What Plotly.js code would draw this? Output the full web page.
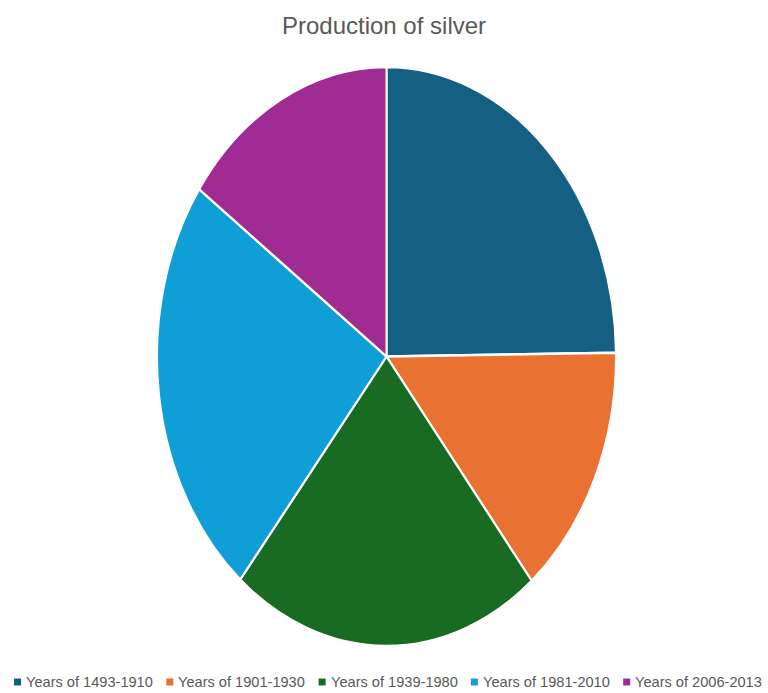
<!DOCTYPE html>
<html>
<head>
<meta charset="utf-8">
<script src="https://cdn.plot.ly/plotly-3.0.1.min.js"></script>
<style>
html,body{margin:0;padding:0;background:#fff;}
#chart{width:768px;height:693px;}
</style>
</head>
<body>
<div id="chart"></div>
<script>
var categories = ["Years of 1493-1910", "Years of 1901-1930", "Years of 1939-1980", "Years of 1981-2010", "Years of 2006-2013"];
var values = [24.8, 14.3, 21.9, 23.8, 15.2];
var colors = ["#156082", "#E97132", "#196B24", "#0F9ED5", "#A02B93"];

var W = 768, H = 693;
// pie ellipse geometry (pixels)
var cx = 386.5, cy = 356.5, rx = 229.5, ry = 289.5;

var trace = {
  type: "pie",
  labels: categories,
  values: values,
  sort: false,
  direction: "clockwise",
  rotation: 0,
  textinfo: "none",
  hoverinfo: "label+value",
  marker: {colors: colors, line: {color: "#ffffff", width: 2}},
  domain: {
    x: [(cx - rx) / W, (cx + rx) / W],
    y: [1 - (cy + rx) / H, 1 - (cy - rx) / H]
  },
  showlegend: false
};

// legend built from categories
var legendStart = 14, legendPitch = 152.3, sq = 7, legendY = 682;
var shapes = [], annotations = [];
categories.forEach(function (c, i) {
  var x0 = legendStart + i * legendPitch;
  shapes.push({
    type: "rect", xref: "paper", yref: "paper",
    x0: x0 / W, x1: (x0 + sq) / W,
    y0: 1 - (legendY + sq / 2) / H, y1: 1 - (legendY - sq / 2) / H,
    fillcolor: colors[i], line: {width: 0}
  });
  annotations.push({
    xref: "paper", yref: "paper",
    x: (x0 + sq + 3) / W, y: 1 - legendY / H,
    xanchor: "left", yanchor: "middle",
    text: c, showarrow: false,
    font: {family: "Liberation Sans, Arial, sans-serif", size: 14.6, color: "#595959"}
  });
});

var layout = {
  width: W, height: H,
  margin: {l: 0, r: 0, t: 0, b: 0},
  paper_bgcolor: "#ffffff",
  title: {
    text: "Production of silver",
    x: 0.5, xanchor: "center",
    y: 1 - 26 / H, yanchor: "middle", yref: "container",
    font: {family: "Liberation Sans, Arial, sans-serif", size: 24, color: "#595959"}
  },
  shapes: shapes,
  annotations: annotations,
  showlegend: false
};

Plotly.newPlot("chart", [trace], layout, {displayModeBar: false}).then(function (gd) {
  var s = ry / rx;
  var layer = gd.querySelector(".pielayer");
  if (layer) {
    layer.setAttribute("transform", "translate(0," + cy + ") scale(1," + s + ") translate(0," + (-cy) + ")");
  }
});
</script>
</body>
</html>
